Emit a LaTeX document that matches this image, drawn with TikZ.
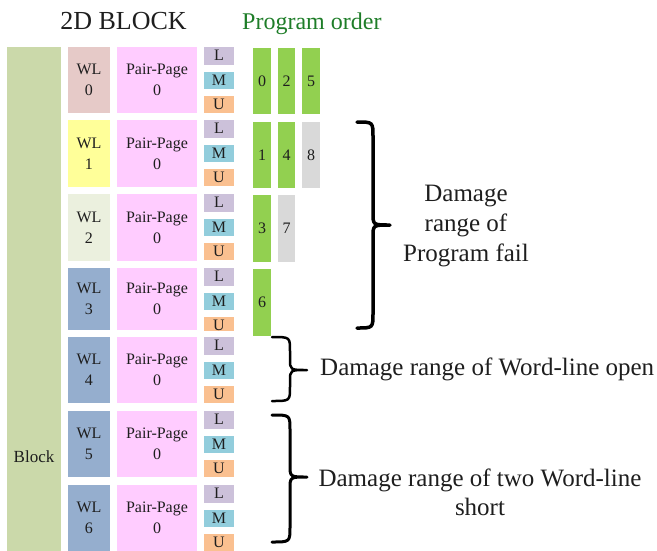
\documentclass[tikz,border=0pt]{standalone}
\usepackage{fontspec}
\setmainfont{Liberation Serif}
\definecolor{blockc}{RGB}{203,217,170}
\definecolor{wlzero}{RGB}{230,202,200}
\definecolor{wlone}{RGB}{255,255,153}
\definecolor{wltwo}{RGB}{235,240,222}
\definecolor{wlblue}{RGB}{149,174,206}
\definecolor{ppc}{RGB}{255,204,255}
\definecolor{lc}{RGB}{204,193,218}
\definecolor{mc}{RGB}{146,205,220}
\definecolor{uc}{RGB}{250,192,144}
\definecolor{barg}{RGB}{146,208,80}
\definecolor{bargr}{RGB}{217,217,217}
\definecolor{pgreen}{RGB}{30,125,40}
\definecolor{ink}{RGB}{30,30,30}
\tikzset{
  cell/.style={rectangle, inner sep=0pt, outer sep=0pt, draw=none, align=center,
    font=\fontsize{16}{20.7}\selectfont, text=ink},
  bigtext/.style={font=\fontsize{25}{30}\selectfont, text=ink, inner sep=0pt},
  bracestyle/.style={draw=black, line cap=round, line join=round}
}
\newcommand\cellbox[7]{\node[cell, fill=#6, minimum width={(#4)-(#2)}, minimum height={(#5)-(#3)}] (#1) at ({((#2)+(#4))/2},{((#3)+(#5))/2}) {#7};}
\begin{document}
\begin{tikzpicture}[x=1pt,y=-1pt]
\useasboundingbox (0,0) rectangle (657,550);
% block
\cellbox{block}{7}{47}{61}{551}{blockc}{}
\node[cell, font=\fontsize{17}{20}\selectfont] (blocktext) at (34,457) {Block};
% rows
\foreach \i/\t/\b/\c in {0/47/113/wlzero,1/120/187/wlone,2/194/261/wltwo,3/268/330/wlblue,4/337/403/wlblue,5/411/477/wlblue,6/485/551/wlblue}{
  \cellbox{wl\i}{68}{\t}{110}{\b}{\c}{WL\\\i}
  \cellbox{pp\i}{117}{\t}{197}{\b}{ppc}{Pair-Page\\0}
  \cellbox{l\i}{204}{\t}{234}{\t+17.5}{lc}{L}
  \cellbox{m\i}{204}{\t+24.5}{234}{\t+42}{mc}{M}
}
\foreach \i/\t in {0/47,1/120,2/194,4/337,5/411,6/485}{
  \cellbox{u\i}{204}{\t+49}{234}{\t+66}{uc}{U}
}
\begin{scope}
  \clip (200,300) rectangle (240,330);
  \cellbox{u3}{204}{317}{234}{334}{uc}{U}
\end{scope}
% program order bars
\cellbox{p0}{253}{48}{271}{114}{barg}{0}
\cellbox{p2}{278}{48}{295}{114}{barg}{2}
\cellbox{p5}{302}{48}{320}{114}{barg}{5}
\cellbox{p1}{253}{122}{271}{188}{barg}{1}
\cellbox{p4}{278}{122}{295}{188}{barg}{4}
\cellbox{p8}{302}{122}{320}{188}{bargr}{8}
\cellbox{p3}{253}{195}{271}{262}{barg}{3}
\cellbox{p7}{278}{195}{295}{262}{bargr}{7}
\cellbox{p6}{253}{269}{271}{336}{barg}{6}
% titles
\node[inner sep=0pt, anchor=base, text=ink, font=\fontsize{26}{30}\selectfont] (title) at (123.5,29.3) {2D BLOCK};
\node[inner sep=0pt, anchor=base west, text=pgreen, font=\fontsize{24}{28}\selectfont] (order) at (242,29) {Program order};
% braces
\draw[bracestyle, line width=3.5pt] (357,122) .. controls (373,122) .. (373,137) -- (373,213)
  .. controls (373,225) .. (390,225) .. controls (373,225) .. (373,237) -- (373,313)
  .. controls (373,328) .. (357,328);
\draw[bracestyle, line width=2.5pt] (272,337) .. controls (290,337) .. (290,351) -- (290,359)
  .. controls (290,370) .. (307,370) .. controls (290,370) .. (290,381) -- (290,387)
  .. controls (290,401) .. (272,401);
\draw[bracestyle, line width=3pt] (272,415) .. controls (290,415) .. (290,430) -- (290,465)
  .. controls (290,477) .. (307,477) .. controls (290,477) .. (290,489) -- (290,527)
  .. controls (290,542) .. (272,542);
% damage labels
\node[bigtext, anchor=base, align=center] (dfail) at (466,261) {Damage\\range of\\Program fail};
\node[bigtext, anchor=base west] (dopen) at (320,375.5) {Damage range of Word-line open};
\node[bigtext, anchor=base, align=center, font=\fontsize{25}{29}\selectfont] (dshort) at (480,515) {Damage range of two Word-line\\short};
\end{tikzpicture}
\end{document}
